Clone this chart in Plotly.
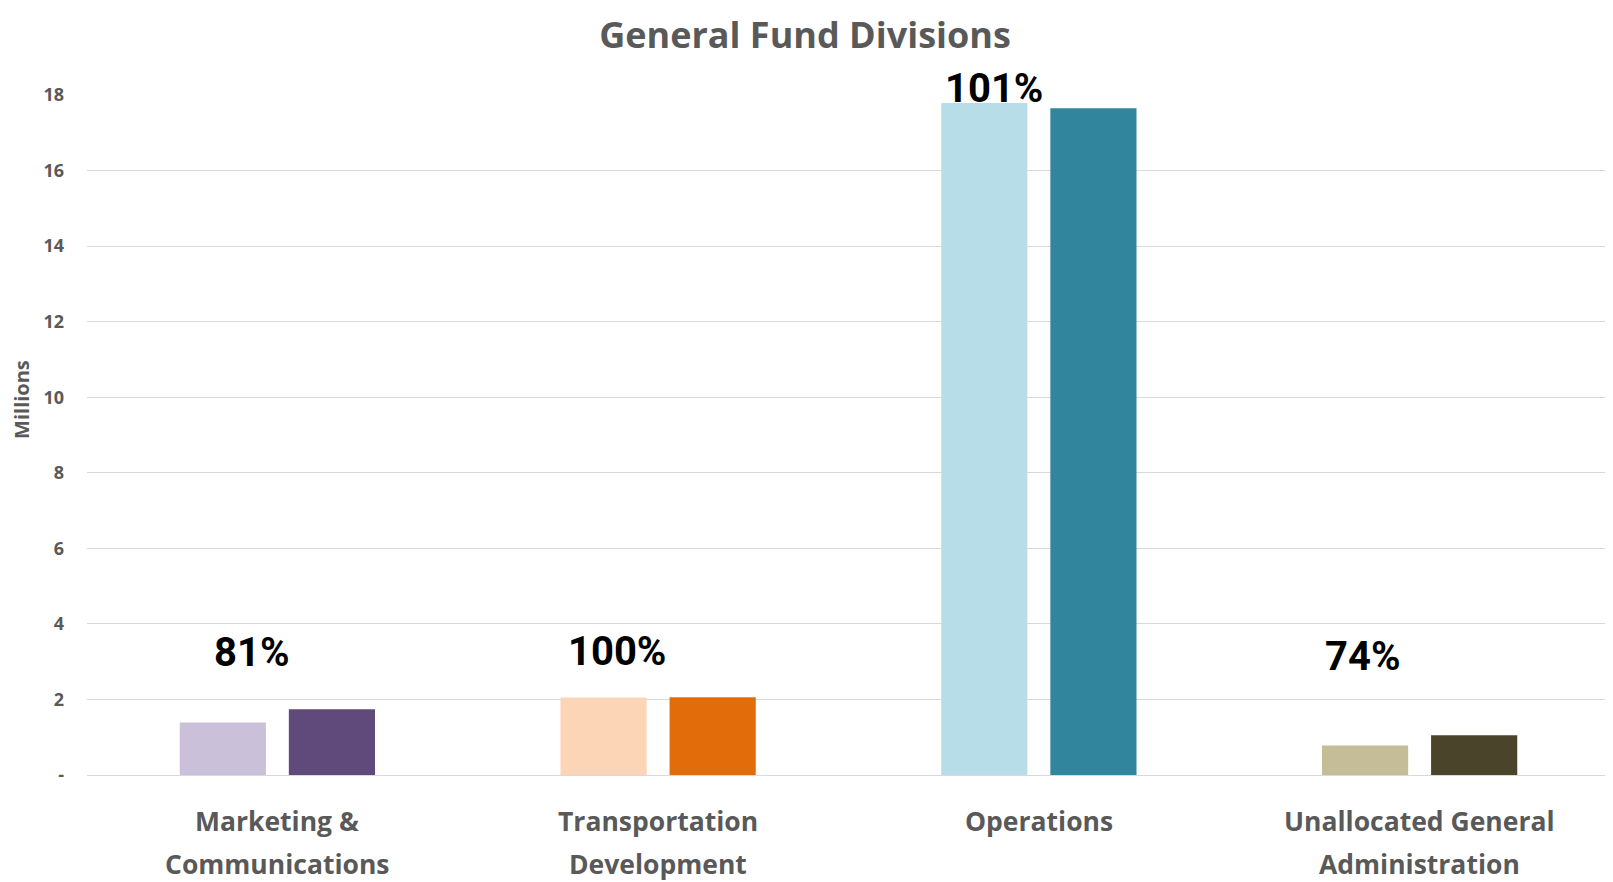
import plotly.graph_objects as go

# données (millions)
divisions = ["Marketing &<br>Communications", "Transportation<br>Development",
             "Operations", "Unallocated General<br>Administration"]
actual = [1.39, 2.05, 17.79, 0.78]
budget = [1.74, 2.06, 17.65, 1.05]
pct_labels = ["81%", "100%", "101%", "74%"]

light_colors = ["#CBC0DA", "#FBD5B5", "#B7DEE8", "#C4BD97"]
dark_colors = ["#604A7B", "#E36C0A", "#31859C", "#4A452A"]

tick_vals = [0, 2, 4, 6, 8, 10, 12, 14, 16, 18]
tick_text = ["-", "2", "4", "6", "8", "10", "12", "14", "16", "18"]

# placement manuel des étiquettes % (décalage px)
label_shift = [-26, -41, -45, -57]
label_yshift = [123, 124, 7, 119]

fig = go.Figure()
fig.add_trace(go.Bar(x=divisions, y=actual, marker=dict(color=light_colors, line_width=0),
                     name="Actual", hoverinfo="y"))
fig.add_trace(go.Bar(x=divisions, y=budget, marker=dict(color=dark_colors, line_width=0),
                     name="Budget", hoverinfo="y"))

for i, lab in enumerate(pct_labels):
    base = 18 if label_yshift[i] < 20 else 0
    fig.add_annotation(x=divisions[i], y=base, text=lab, showarrow=False,
                       xshift=label_shift[i], yshift=label_yshift[i], yanchor="middle",
                       font=dict(family="Liberation Sans Narrow, Roboto, sans-serif", size=40,
                                 color="#000000", weight="bold"))

# étiquettes de catégories (interligne plus grand que celui de plotly)
for d in divisions:
    for j, line in enumerate(d.split("<br>")):
        fig.add_annotation(x=d, y=0, text=line, showarrow=False, yanchor="middle",
                           yshift=-46 - 43 * j,
                           font=dict(family="Open Sans", size=26.5, color="#595959", weight="bold"))

fig.add_annotation(text="Millions", xref="paper", yref="paper", x=-0.0427, y=0.553,
                   textangle=-90, showarrow=False, xanchor="center", yanchor="middle",
                   font=dict(family="Open Sans", size=20, color="#595959", weight="bold"))

fig.update_layout(
    width=1605, height=874,
    margin=dict(l=79, r=3, t=87, b=107),
    paper_bgcolor="white", plot_bgcolor="white",
    barmode="group", bargap=0.427, bargroupgap=0.21,
    showlegend=False,
    title=dict(text="General Fund Divisions", x=0.4966, xanchor="center", y=0.969, yanchor="middle",
               font=dict(family="Open Sans", size=36, color="#595959", weight="bold")),
    xaxis=dict(showgrid=False, showline=False, ticks="", showticklabels=False),
    yaxis=dict(range=[0, 18], tickvals=tick_vals, ticktext=tick_text,
               showgrid=True, gridcolor="#D9D9D9", gridwidth=1,
               zeroline=True, zerolinecolor="#D9D9D9", zerolinewidth=1,
               showline=False, ticks="", ticklabelstandoff=22,
               tickfont=dict(family="Open Sans", size=18, color="#595959", weight="bold")),
)

fig.write_html("out.html")
